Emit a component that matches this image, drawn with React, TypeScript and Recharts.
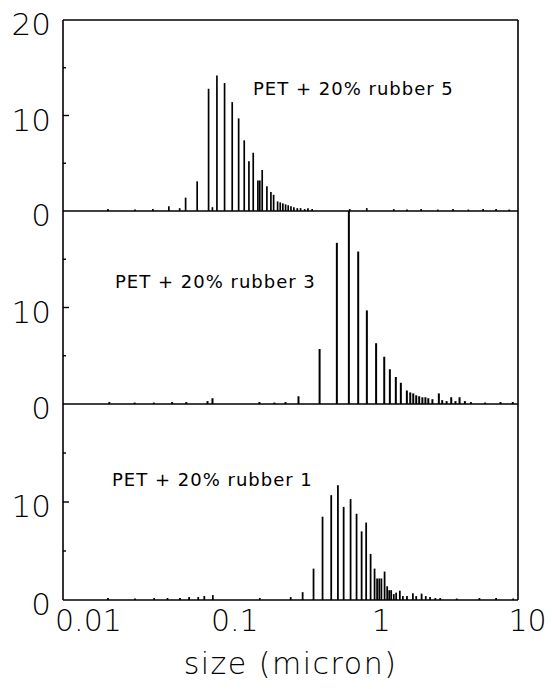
import * as React from 'react';
import { Bar, BarChart, XAxis, YAxis } from 'recharts';

// particle size (micron) and counts per panel
const rubber5Size = [
  0.0145, 0.0222, 0.0294, 0.0378, 0.0448, 0.0492, 0.059, 0.0706, 0.075, 0.0805, 0.0908, 0.1024,
  0.1133, 0.1237, 0.1332, 0.1425, 0.1534, 0.158, 0.1641, 0.1767, 0.1882, 0.1964, 0.2091, 0.218,
  0.227, 0.237, 0.247, 0.258, 0.27, 0.285, 0.3, 0.32, 0.337, 0.36, 0.65, 0.85, 1.3, 1.6, 2.0, 2.6,
  3.3, 4.2, 5.3, 6.5, 8
];
const rubber5Count = [
  0.2, 0.15, 0.2, 0.5, 0.3, 1.4, 3.1, 12.8, 0.4, 14.2, 13.4, 11.4, 9.7, 7.4, 5.2, 6.1, 3.2, 3.2,
  4.3, 2.6, 2.0, 1.7, 1.0, 0.9, 0.8, 0.7, 0.6, 0.5, 0.4, 0.3, 0.3, 0.2, 0.3, 0.2, 0.2, 0.3, 0.2,
  0.15, 0.2, 0.15, 0.2, 0.15, 0.2, 0.2, 0.15
];

const rubber3Size = [
  0.0149, 0.0222, 0.03, 0.04, 0.05, 0.0698, 0.0755, 0.158, 0.2, 0.238, 0.292, 0.407, 0.534, 0.645,
  0.747, 0.856, 0.99, 1.125, 1.229, 1.35, 1.461, 1.606, 1.694, 1.776, 1.861, 1.95, 2.05, 2.15, 2.25,
  2.4, 2.656, 2.8, 3.0, 3.227, 3.45, 3.679, 4.0, 4.4, 5.5, 7, 8.5
];
const rubber3Count = [
  0.2, 0.15, 0.15, 0.2, 0.2, 0.3, 0.6, 0.2, 0.15, 0.2, 0.8, 5.7, 16.7, 20, 15.8, 9.7, 6.3, 4.9, 3.6,
  2.8, 2.2, 1.4, 1.2, 1.1, 0.9, 0.8, 0.7, 0.7, 0.6, 0.5, 1.1, 0.4, 0.3, 0.7, 0.3, 0.7, 0.3, 0.2,
  0.15, 0.2, 0.2
];

const rubber1Size = [
  0.0145, 0.0222, 0.03, 0.037, 0.045, 0.052, 0.06, 0.066, 0.0755, 0.158, 0.257, 0.31, 0.368, 0.424,
  0.486, 0.54, 0.591, 0.659, 0.724, 0.784, 0.842, 0.903, 0.961, 1.0, 1.035, 1.07, 1.125, 1.172, 1.21,
  1.248, 1.3, 1.35, 1.43, 1.5, 1.6, 1.756, 1.85, 2.014, 2.15, 2.3, 2.5, 2.7, 3.5, 5, 6.5, 8.5
];
const rubber1Count = [
  0.2, 0.15, 0.2, 0.2, 0.2, 0.3, 0.3, 0.4, 0.5, 0.2, 0.3, 0.8, 3.2, 8.5, 10.7, 11.7, 9.5, 10.3, 8.8,
  7.0, 7.9, 4.7, 3.2, 2.2, 2.2, 2.2, 2.9, 1.4, 1.0, 1.0, 0.6, 0.75, 0.95, 0.4, 0.4, 0.7, 0.4, 0.65,
  0.4, 0.3, 0.2, 0.2, 0.15, 0.2, 0.2, 0.15
];

const xTicks = [0.01, 0.1, 1, 10];
const xDomain = [0.00714, 9.16];
const yTicksTop = [0, 5, 10, 15, 20];
const yTicksLower = [0, 5, 10, 15];
const labelledTicks = [0, 10, 20];

const font = '"DejaVu Sans", sans-serif';
const border = { stroke: '#000', strokeWidth: 1.6 };
const TICK_GAP = 12;

const rows = (sizes: number[], counts: number[]) => sizes.map((size, i) => ({ size, count: counts[i] }));

// y tick: label outside the frame, short tick mark pointing inward
function YTick(props: any) {
  const { x, y, payload } = props;
  const v = payload.value as number;
  const axisX = x + TICK_GAP;
  const len = v === 10 ? 6 : v === 5 || v === 15 ? 3 : 0;
  return (
    <g>
      {len > 0 && <line x1={axisX} x2={axisX + len} y1={y} y2={y} stroke="#000" strokeWidth={1.4} />}
      {labelledTicks.includes(v) && (
        <text
          x={x}
          y={y + 4}
          dy="0.355em"
          textAnchor="end"
          fill="#000"
          fontSize={31}
          fontFamily={font}
          fontWeight={200}
        >
          {v}
        </text>
      )}
    </g>
  );
}

type PanelProps = {
  data: { size: number; count: number }[];
  top: number;
  plotHeight: number;
  first?: boolean;
  last?: boolean;
};

function Panel({ data, top, plotHeight, first, last }: PanelProps) {
  const xAxisHeight = last ? 80 : 1;
  const topAxis = first ? 1 : 0;
  const height = plotHeight + 20 + 30 + xAxisHeight;
  return (
    <div style={{ position: 'absolute', left: 0, top: top - 20 }}>
      <BarChart
        width={552}
        height={height}
        data={data}
        margin={{ top: 20 - topAxis, right: 33, bottom: 30, left: 0 }}
        barSize={2}
      >
        <XAxis
          dataKey="size"
          type="number"
          scale="log"
          domain={xDomain}
          allowDataOverflow
          ticks={xTicks}
          interval={0}
          height={xAxisHeight}
          tick={last ? { fill: '#000', fontSize: 30, fontFamily: font, fontWeight: 200, dx: 4 } : false}
          tickFormatter={(v: number) => String(v)}
          tickLine={false}
          tickSize={0}
          tickMargin={10}
          axisLine={border}
          label={
            last
              ? {
                  value: 'size (micron)',
                  position: 'insideBottom',
                  offset: 6,
                  fill: '#000',
                  fontSize: 30,
                  fontFamily: font,
                  fontWeight: 200,
                  letterSpacing: 1.5
                }
              : undefined
          }
        />
        {first && (
          <XAxis
            xAxisId="top"
            dataKey="size"
            type="number"
            scale="log"
            domain={xDomain}
            allowDataOverflow
            orientation="top"
            height={1}
            tick={false}
            tickLine={false}
            axisLine={border}
          />
        )}
        <YAxis
          domain={[0, 20]}
          ticks={first ? yTicksTop : yTicksLower}
          interval={0}
          width={63}
          tickLine={false}
          tickSize={0}
          tickMargin={TICK_GAP}
          tick={<YTick />}
          axisLine={border}
        />
        <YAxis
          yAxisId="right"
          orientation="right"
          domain={[0, 20]}
          width={1}
          tick={false}
          tickLine={false}
          axisLine={border}
        />
        <Bar dataKey="count" fill="#000" isAnimationActive={false} />
      </BarChart>
    </div>
  );
}

const labelStyle: React.CSSProperties = {
  position: 'absolute',
  fontFamily: font,
  fontSize: 18,
  letterSpacing: 1,
  lineHeight: '18px',
  color: '#000',
  whiteSpace: 'nowrap'
};

export default function App() {
  return (
    <div style={{ position: 'absolute', left: 0, top: 0, width: 552, height: 689, background: '#fff' }}>
      <Panel data={rows(rubber5Size, rubber5Count)} top={20} plotHeight={191} first />
      <Panel data={rows(rubber3Size, rubber3Count)} top={211} plotHeight={193} />
      <Panel data={rows(rubber1Size, rubber1Count)} top={404} plotHeight={196} last />
      <div style={{ ...labelStyle, left: 253, top: 80 }}>PET + 20% rubber 5</div>
      <div style={{ ...labelStyle, left: 115, top: 273 }}>PET + 20% rubber 3</div>
      <div style={{ ...labelStyle, left: 112, top: 471 }}>PET + 20% rubber 1</div>
    </div>
  );
}
